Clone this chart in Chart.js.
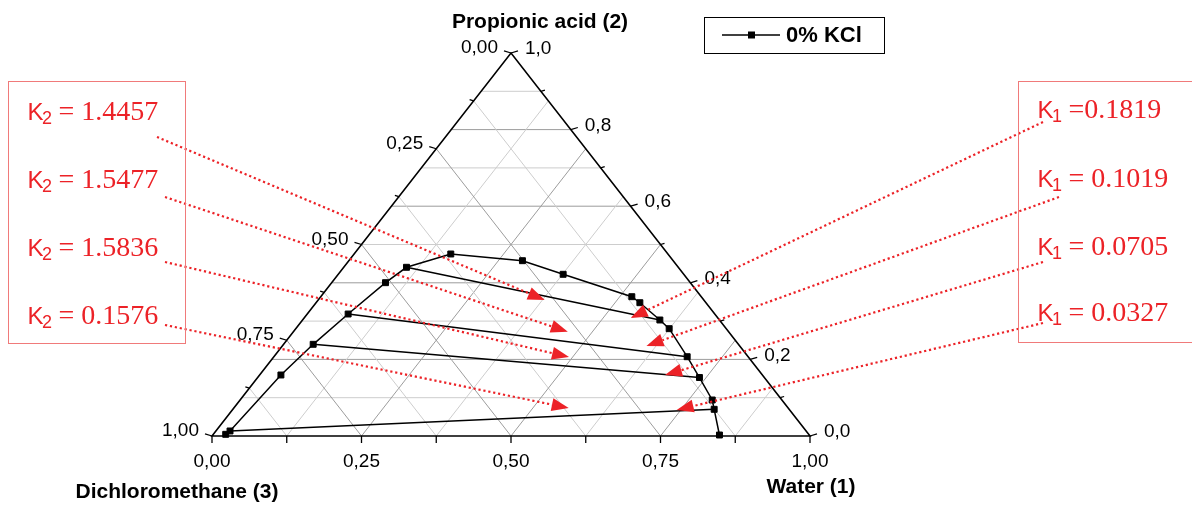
<!DOCTYPE html>
<html>
<head>
<meta charset="utf-8">
<script src="https://cdn.jsdelivr.net/npm/chart.js@4.4.0/dist/chart.umd.min.js"></script>
<style>
    html, body { margin: 0; padding: 0; background: #fff; }
    #wrap { width: 1192px; height: 505px; position: relative; }
</style>
</head>
<body>
<div id="wrap"><canvas id="ternaryChart" width="1192" height="505"></canvas></div>
<script>
// Binodal curve, mass fractions: water (1) and propionic acid (2); DCM (3) = 1 - x1 - x2
const binodalWater = [0.0207, 0.0236, 0.0356, 0.0495, 0.0684, 0.0900, 0.1050, 0.1617, 0.2903, 0.3761,
                      0.5202, 0.5415, 0.5975, 0.6244, 0.6911, 0.7388, 0.7895, 0.8049, 0.8473];
const binodalAcid  = [0.0044, 0.0131, 0.1593, 0.2394, 0.3185, 0.4003, 0.4405, 0.4752, 0.4577, 0.4222,
                      0.3637, 0.3480, 0.3029, 0.2802, 0.2070, 0.1527, 0.0940, 0.0697, 0.0026];

// Tie lines: organic end -> aqueous end
const tieOrgWater = [0.1050, 0.0684, 0.0495, 0.0236];
const tieOrgAcid  = [0.4405, 0.3185, 0.2394, 0.0131];
const tieAqWater  = [0.5975, 0.6911, 0.7388, 0.8049];
const tieAqAcid   = [0.3029, 0.2070, 0.1527, 0.0697];

// Distribution coefficients and where their arrows point (water, acid)
const k2Texts = ['= 1.4457', '= 1.5477', '= 1.5836', '= 0.1576'];
const k1Texts = ['=0.1819', '= 0.1019', '= 0.0705', '= 0.0327'];
const k2TipWater = [0.379, 0.459, 0.494, 0.560];
const k2TipAcid  = [0.355, 0.272, 0.206, 0.073];
const k1TipWater = [0.546, 0.609, 0.678, 0.743];
const k1TipAcid  = [0.308, 0.235, 0.159, 0.068];

// Axis tick labels
const waterTicks = ['0,00', '0,25', '0,50', '0,75', '1,00'];
const acidTicks  = ['0,0', '0,2', '0,4', '0,6', '0,8', '1,0'];
const dcmTicks   = ['0,00', '0,25', '0,50', '0,75', '1,00'];

const SANS = "'Liberation Sans', Arial, sans-serif";
const SERIF = "'Liberation Serif', 'Times New Roman', serif";
const RED = '#ec2227';

// ternary (water, acid) -> cartesian chart values
const toXY = (w, a) => ({ x: w + a / 2, y: a });
const tern = (chart, w, a) => ({
    x: chart.scales.x.getPixelForValue(w + a / 2),
    y: chart.scales.y.getPixelForValue(a)
});

function seg(ctx, p, q) {
    ctx.beginPath();
    ctx.moveTo(p.x, p.y);
    ctx.lineTo(q.x, q.y);
    ctx.stroke();
}

// Grid, frame, ticks and tick labels
const ternaryFrame = {
    id: 'ternaryFrame',
    beforeDatasetsDraw(chart) {
        const ctx = chart.ctx;
        ctx.save();
        ctx.lineWidth = 1;
        const grid = (p, q, major) => {
            ctx.strokeStyle = major ? '#9c9c9c' : '#cdcdcd';
            seg(ctx, p, q);
        };
        for (let i = 1; i < 10; i++) {
            const c = i / 10;
            grid(tern(chart, 0, c), tern(chart, 1 - c, c), i % 2 === 0);
        }
        for (let i = 1; i < 8; i++) {
            const c = i / 8;
            grid(tern(chart, c, 0), tern(chart, c, 1 - c), i % 2 === 0);
            grid(tern(chart, 1 - c, 0), tern(chart, 0, 1 - c), i % 2 === 0);
        }

        // triangle
        const A = tern(chart, 0, 0), B = tern(chart, 1, 0), C = tern(chart, 0, 1);
        ctx.strokeStyle = '#000';
        ctx.lineWidth = 1.6;
        ctx.beginPath();
        ctx.moveTo(A.x, A.y);
        ctx.lineTo(B.x, B.y);
        ctx.lineTo(C.x, C.y);
        ctx.closePath();
        ctx.stroke();

        ctx.lineWidth = 1.3;
        ctx.fillStyle = '#000';
        ctx.font = '19px ' + SANS;

        // bottom axis: water
        ctx.textAlign = 'center';
        ctx.textBaseline = 'alphabetic';
        for (let i = 0; i <= 8; i++) {
            const p = tern(chart, i / 8, 0);
            seg(ctx, p, { x: p.x, y: p.y + 7 });
            if (i % 2 === 0) ctx.fillText(waterTicks[i / 2], p.x, p.y + 31);
        }

        // right axis: propionic acid
        ctx.textAlign = 'left';
        ctx.textBaseline = 'middle';
        for (let i = 0; i <= 10; i++) {
            const a = i / 10;
            const p = tern(chart, 1 - a, a);
            const len = i % 2 === 0 ? 7 : 4;
            seg(ctx, p, { x: p.x + len, y: p.y - len * 0.3 });
            if (i % 2 === 0) ctx.fillText(acidTicks[i / 2], p.x + 14, p.y - 4);
        }

        // left axis: dichloromethane (0 at top)
        ctx.textAlign = 'right';
        for (let i = 0; i <= 8; i++) {
            const d = i / 8;
            const p = tern(chart, 0, 1 - d);
            const len = i % 2 === 0 ? 7 : 4;
            seg(ctx, p, { x: p.x - len, y: p.y - len * 0.3 });
            if (i % 2 === 0) ctx.fillText(dcmTicks[i / 2], p.x - 13, p.y - 5);
        }
        ctx.restore();
    }
};

function arrow(ctx, from, to) {
    const dx = to.x - from.x, dy = to.y - from.y;
    const len = Math.hypot(dx, dy);
    const ux = dx / len, uy = dy / len;
    const headLen = 17, headHalf = 6.5;
    const base = { x: to.x - ux * headLen, y: to.y - uy * headLen };
    ctx.save();
    ctx.strokeStyle = RED;
    ctx.lineWidth = 2.2;
    ctx.setLineDash([2.2, 2.8]);
    seg(ctx, from, base);
    ctx.setLineDash([]);
    ctx.fillStyle = RED;
    ctx.beginPath();
    ctx.moveTo(to.x, to.y);
    ctx.lineTo(base.x - uy * headHalf, base.y + ux * headHalf);
    ctx.lineTo(base.x + uy * headHalf, base.y - ux * headHalf);
    ctx.closePath();
    ctx.fill();
    ctx.restore();
}

function kLabel(ctx, x, baseline, sub, text) {
    ctx.save();
    ctx.fillStyle = RED;
    ctx.textAlign = 'left';
    ctx.textBaseline = 'alphabetic';
    ctx.font = '24px ' + SANS;
    ctx.fillText('K', x - 1.5, baseline);
    ctx.font = '18px ' + SANS;
    ctx.fillText(sub, x + 13, baseline + 3.5);
    ctx.font = '28px ' + SERIF;
    ctx.fillText(text, x + 29.5, baseline);
    ctx.restore();
}

// Arrows, K boxes, legend and axis titles
const annotations = {
    id: 'annotations',
    afterDatasetsDraw(chart) {
        const ctx = chart.ctx;
        const leftTails = [[157, 137], [165, 197], [165, 262], [165, 325]];
        const rightTails = [[1043, 122], [1059, 197], [1043, 262], [1043, 323]];
        const leftBase = [120, 188, 256, 324];
        const rightBase = [118, 187, 255, 321];

        k2Texts.forEach((t, i) => {
            arrow(ctx, { x: leftTails[i][0], y: leftTails[i][1] }, tern(chart, k2TipWater[i], k2TipAcid[i]));
            arrow(ctx, { x: rightTails[i][0], y: rightTails[i][1] }, tern(chart, k1TipWater[i], k1TipAcid[i]));
        });

        ctx.save();
        ctx.strokeStyle = '#f07a7a';
        ctx.lineWidth = 1;
        ctx.strokeRect(8.5, 81.5, 177, 262);
        ctx.strokeRect(1018.5, 81.5, 200, 261);
        ctx.restore();

        k2Texts.forEach((t, i) => kLabel(ctx, 29, leftBase[i], '2', t));
        k1Texts.forEach((t, i) => kLabel(ctx, 1039, rightBase[i], '1', t));

        // legend
        ctx.save();
        ctx.strokeStyle = '#000';
        ctx.lineWidth = 1;
        ctx.strokeRect(704.5, 17.5, 180, 36);
        ctx.lineWidth = 1.5;
        seg(ctx, { x: 722, y: 35 }, { x: 780, y: 35 });
        ctx.fillStyle = '#000';
        ctx.fillRect(748, 31.5, 7, 7);
        ctx.font = 'bold 22px ' + SANS;
        ctx.textBaseline = 'middle';
        ctx.textAlign = 'left';
        ctx.fillText(chart.data.datasets[0].label, 786, 36);

        // axis titles
        ctx.font = 'bold 21px ' + SANS;
        ctx.textBaseline = 'alphabetic';
        ctx.textAlign = 'center';
        ctx.fillText('Propionic acid (2)', 540, 28);
        ctx.fillText('Dichloromethane (3)', 177, 498);
        ctx.fillText('Water (1)', 811, 493);
        ctx.restore();
    }
};

const binodalData = binodalWater.map((w, i) => toXY(w, binodalAcid[i]));
const tieDatasets = tieOrgWater.map((w, i) => ({
    label: 'tie ' + (i + 1),
    data: [toXY(w, tieOrgAcid[i]), toXY(tieAqWater[i], tieAqAcid[i])],
    showLine: true,
    borderColor: '#000',
    borderWidth: 1.5,
    pointRadius: 0,
    clip: false
}));

const ctx = document.getElementById('ternaryChart').getContext('2d');
new Chart(ctx, {
    type: 'scatter',
    data: {
        datasets: [{
            label: '0% KCl',
            data: binodalData,
            showLine: true,
            borderColor: '#000',
            borderWidth: 1.5,
            backgroundColor: '#000',
            pointStyle: 'rect',
            pointRadius: 4.2,
            pointBorderWidth: 1,
            clip: false
        }, ...tieDatasets]
    },
    options: {
        responsive: false,
        animation: false,
        layout: { padding: { left: 212, right: 382, top: 53, bottom: 69 } },
        scales: {
            x: { type: 'linear', min: 0, max: 1, display: false },
            y: { type: 'linear', min: 0, max: 1, display: false }
        },
        plugins: { legend: { display: false }, tooltip: { enabled: false } }
    },
    plugins: [ternaryFrame, annotations]
});
</script>
</body>
</html>
